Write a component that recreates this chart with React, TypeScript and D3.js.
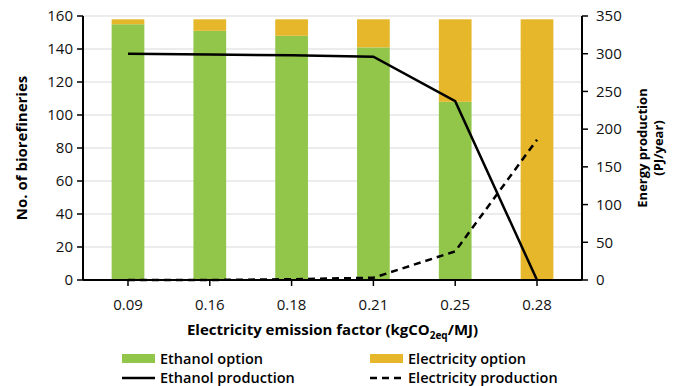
import React from "react";
import * as d3 from "d3";

const categories = ["0.09", "0.16", "0.18", "0.21", "0.25", "0.28"];
const ethanolOption = [155, 151, 148, 141, 108, 0];
const electricityOption = [3, 7, 10, 17, 50, 158];
const ethanolProduction = [300, 299, 298, 296, 237, 0];
const electricityProduction = [0, 0, 1, 3, 38, 186];
const leftTicks = [0, 20, 40, 60, 80, 100, 120, 140, 160];
const rightTicks = [0, 50, 100, 150, 200, 250, 300, 350];

const W = 685;
const H = 386;
const margin = { left: 83, right: 103, top: 16, bottom: 106 };
const FONT = "'Open Sans', 'DejaVu Sans', sans-serif";
const GREEN = "#92c64a";
const GOLD = "#e6b72b";

export default function App() {
  const x = d3
    .scaleBand<string>()
    .domain(categories)
    .range([margin.left, W - margin.right])
    .paddingInner(0.6)
    .paddingOuter(0.35);
  const yL = d3.scaleLinear().domain([0, 160]).range([H - margin.bottom, margin.top]);
  const yR = d3.scaleLinear().domain([0, 350]).range([H - margin.bottom, margin.top]);
  const cx = (c: string) => (x(c) ?? 0) + x.bandwidth() / 2;

  const ethLine = d3
    .line<number>()
    .x((_, i) => cx(categories[i]))
    .y((d) => yR(d));

  const x0 = margin.left;
  const x1 = W - margin.right;
  const yb = H - margin.bottom;

  return (
    <svg width={W} height={H} style={{ position: "absolute", left: 0, top: 0, background: "#fff" }} fontFamily={FONT}>
      {/* grid */}
      {leftTicks.slice(1).map((t) => (
        <line key={t} x1={x0} x2={x1} y1={yL(t)} y2={yL(t)} stroke="#e6e6e6" strokeWidth={1.5} />
      ))}
      {/* bars */}
      {categories.map((c, i) => (
        <g key={c}>
          <rect x={x(c)} width={x.bandwidth()} y={yL(ethanolOption[i])} height={yb - yL(ethanolOption[i])} fill={GREEN} />
          <rect
            x={x(c)}
            width={x.bandwidth()}
            y={yL(ethanolOption[i] + electricityOption[i])}
            height={yL(ethanolOption[i]) - yL(ethanolOption[i] + electricityOption[i])}
            fill={GOLD}
          />
        </g>
      ))}
      {/* lines */}
      <path d={ethLine(ethanolProduction) ?? ""} fill="none" stroke="#000" strokeWidth={2.5} />
      <path d={ethLine(electricityProduction) ?? ""} fill="none" stroke="#000" strokeWidth={2.5} strokeDasharray="7,5" />
      {/* axes */}
      <line x1={x0} x2={x0} y1={margin.top} y2={yb} stroke="#000" strokeWidth={2} />
      <line x1={x1} x2={x1} y1={margin.top} y2={yb} stroke="#000" strokeWidth={2} />
      <line x1={x0} x2={x1} y1={yb} y2={yb} stroke="#000" strokeWidth={2} />
      {leftTicks.map((t) => (
        <g key={t}>
          <line x1={x0 - 6} x2={x0} y1={yL(t)} y2={yL(t)} stroke="#000" strokeWidth={1.5} />
          <text x={x0 - 10} y={yL(t)} dy="0.35em" textAnchor="end" fontSize={15} fill="#111">
            {t}
          </text>
        </g>
      ))}
      {rightTicks.map((t) => (
        <g key={t}>
          <line x1={x1} x2={x1 + 6} y1={yR(t)} y2={yR(t)} stroke="#000" strokeWidth={1.5} />
          <text x={x1 + 14} y={yR(t)} dy="0.35em" textAnchor="start" fontSize={15} fill="#111">
            {t}
          </text>
        </g>
      ))}
      {categories.map((c) => (
        <g key={c}>
          <line x1={cx(c)} x2={cx(c)} y1={yb} y2={yb + 6} stroke="#000" strokeWidth={1.5} />
          <text x={cx(c)} y={yb + 25} dy="0.35em" textAnchor="middle" fontSize={15} fill="#111">
            {c}
          </text>
        </g>
      ))}
      {/* axis titles */}
      <text transform={`translate(22,${(margin.top + yb) / 2}) rotate(-90)`} textAnchor="middle" dy="0.35em" fontSize={15} fontWeight={700}>
        No. of biorefineries
      </text>
      <text transform={`translate(642,${(margin.top + yb) / 2}) rotate(-90)`} textAnchor="middle" dy="0.35em" fontSize={13} fontWeight={700}>
        Energy production
      </text>
      <text transform={`translate(658,${(margin.top + yb) / 2}) rotate(-90)`} textAnchor="middle" dy="0.35em" fontSize={13} fontWeight={700}>
        (PJ/year)
      </text>
      <text x={(x0 + x1) / 2} y={330} dy="0.35em" textAnchor="middle" fontSize={15} fontWeight={700}>
        Electricity emission factor (kgCO
        <tspan fontSize={10} dy="4">2eq</tspan>
        <tspan dy="-4">/MJ)</tspan>
      </text>
      {/* legend */}
      <rect x={122} y={354} width={33} height={9} fill={GREEN} />
      <text x={160} y={358.5} dy="0.35em" fontSize={14.5} fontWeight={600}>Ethanol option</text>
      <line x1={122} x2={155} y1={378} y2={378} stroke="#000" strokeWidth={2.5} />
      <text x={160} y={378} dy="0.35em" fontSize={14.5} fontWeight={600}>Ethanol production</text>
      <rect x={370} y={354} width={33} height={9} fill={GOLD} />
      <text x={408} y={358.5} dy="0.35em" fontSize={14.5} fontWeight={600}>Electricity option</text>
      <line x1={370} x2={403} y1={378} y2={378} stroke="#000" strokeWidth={2.5} strokeDasharray="7,5" />
      <text x={408} y={378} dy="0.35em" fontSize={14.5} fontWeight={600}>Electricity production</text>
    </svg>
  );
}
